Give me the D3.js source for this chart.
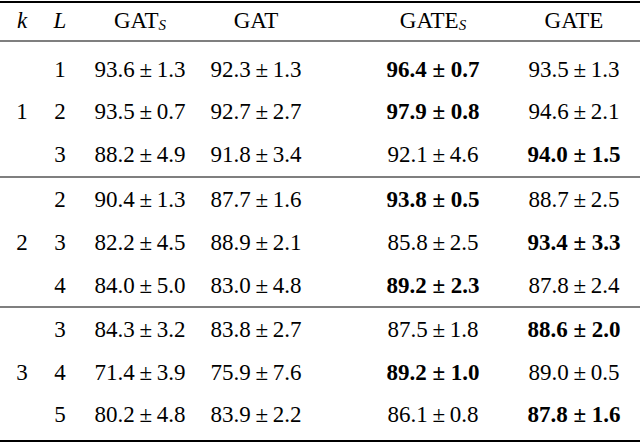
<!DOCTYPE html><html><head><meta charset="utf-8"><script src="https://cdn.jsdelivr.net/npm/d3@7"></script>
<style>body{margin:0;background:#fff}</style></head><body><svg id="c" width="640" height="444"></svg>
<script>
const headers=["GAT_S","GAT","GATE_S","GATE"];
const kVals=[1,2,3];
const lVals=[[1,2,3],[2,3,4],[3,4,5]];
const gatS=["93.6±1.3","93.5±0.7","88.2±4.9","90.4±1.3","82.2±4.5","84.0±5.0","84.3±3.2","71.4±3.9","80.2±4.8"];
const gat=["92.3±1.3","92.7±2.7","91.8±3.4","87.7±1.6","88.9±2.1","83.0±4.8","83.8±2.7","75.9±7.6","83.9±2.2"];
const gateS=["96.4±0.7","97.9±0.8","92.1±4.6","93.8±0.5","85.8±2.5","89.2±2.3","87.5±1.8","89.2±1.0","86.1±0.8"];
const gate=["93.5±1.3","94.6±2.1","94.0±1.5","88.7±2.5","93.4±3.3","87.8±2.4","88.6±2.0","89.0±0.5","87.8±1.6"];
const bestCol=[2,2,3,2,3,2,3,2,3];
const svg=d3.select("#c"),F="Liberation Serif, DejaVu Serif, serif",fs=23;
const x=d3.scaleOrdinal().domain(["k","L",0,1,2,3]).range([22,60,140,256,433,574]);
const rowY=i=>[69,111,154,199,242,285,329,372,414][i];
[2,41,177,307,441].forEach((v,i)=>svg.append("line").attr("x1",0).attr("x2",640).attr("y1",v).attr("y2",v).attr("stroke","#000").attr("stroke-width",(i==0||i==4)?2:1.2));
const t=(xx,yy,s,o={})=>{const e=svg.append("text").attr("x",xx).attr("y",yy).attr("text-anchor","middle").attr("dominant-baseline","central").attr("font-family",F).attr("font-size",fs);
 if(o.it)e.attr("font-style","italic");if(o.b)e.attr("font-weight","bold");return e;};
t(x("k"),20,"k",{it:1}).text("k");t(x("L"),20,"L",{it:1}).text("L");
headers.forEach((h,i)=>{const p=h.split("_");const e=t(x(i),20);e.append("tspan").text(p[0]);if(p[1])e.append("tspan").attr("font-style","italic").attr("font-size",15).attr("dy",5).text(p[1]);});
kVals.forEach((k,g)=>{t(x("k"),rowY(g*3+1)).text(k);lVals[g].forEach((l,j)=>t(x("L"),rowY(g*3+j)).text(l));});
[gatS,gat,gateS,gate].forEach((col,c)=>col.forEach((v,i)=>{const b=bestCol[i]==c;t(x(c),rowY(i),null,{b}).text(b?v.replace("±"," ± "):v.replace("±","\u2009±\u2009"));}));
</script></body></html>
